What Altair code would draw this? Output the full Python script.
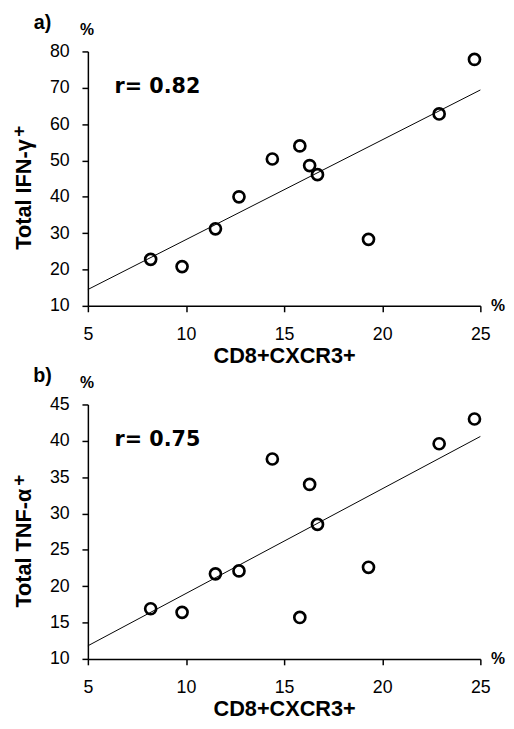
import altair as alt
import pandas as pd

# ---- data ----
cd8_cxcr3 = [8.2, 9.8, 11.5, 12.7, 14.4, 15.8, 16.3, 16.7, 19.3, 22.9, 24.7]
ifn_gamma = [22.8, 20.8, 31.2, 40.0, 50.4, 54.0, 48.6, 46.1, 28.3, 62.8, 77.8]
tnf_alpha = [16.9, 16.4, 21.7, 22.1, 37.5, 15.7, 34.0, 28.5, 22.6, 39.6, 43.0]

fit_x = [5, 25]
ifn_fit_y = [14.5, 69.4]
tnf_fit_y = [11.8, 40.6]

ifn_ticks = [10, 20, 30, 40, 50, 60, 70, 80]
tnf_ticks = [10, 15, 20, 25, 30, 35, 40, 45]
x_ticks = [5, 10, 15, 20, 25]

FONT = "Liberation Sans"
W, H = 398, 258


def panel(yvals, fit_y, ytitle, ydomain, yticks, rtext, letter, title_bottom, plus_y):
    pts = pd.DataFrame({"x": cd8_cxcr3, "y": yvals})
    fit = pd.DataFrame({"x": fit_x, "y": fit_y})

    xenc = alt.X("x:Q", scale=alt.Scale(domain=[5, 25], nice=False, zero=False),
                 axis=alt.Axis(values=x_ticks, title="CD8+CXCR3+", titlePadding=2,
                               titleFontSize=22, labelPadding=14))
    yenc = alt.Y("y:Q", scale=alt.Scale(domain=ydomain, nice=False, zero=False),
                 axis=alt.Axis(values=yticks, title=None, labelPadding=13))

    points = alt.Chart(pts).mark_point(
        shape="circle", filled=False, size=125, strokeWidth=2.7, color="black", opacity=1
    ).encode(x=xenc, y=yenc)

    line = alt.Chart(fit).mark_line(color="black", strokeWidth=1).encode(x=xenc, y=yenc)

    def label(txt, x, y, size, font=FONT, align="center", weight="bold", angle=0):
        return alt.Chart(pd.DataFrame({"t": [txt]})).mark_text(
            font=font, fontSize=size, fontWeight=weight, color="black",
            align=align, baseline="middle", angle=angle
        ).encode(x=alt.value(x), y=alt.value(y), text="t:N")

    r_lbl = label(rtext, 27, 36, 21, font="DejaVu Sans", align="left")
    letter_lbl = label(letter, -46, -29, 20)
    pct_top = label("%", -1, -22, 16)
    pct_right = label("%", 416, H, 16)
    ytitle_lbl = label(ytitle, -65, title_bottom, 22, align="left", angle=270)
    plus_lbl = label("+", -70, plus_y, 19, angle=270)

    return alt.layer(line, points, r_lbl, letter_lbl, pct_top, pct_right,
                     ytitle_lbl, plus_lbl).properties(width=W, height=H)


top = panel(ifn_gamma, ifn_fit_y, "Total IFN-γ", [10, 80], ifn_ticks,
            "r= 0.82", "a)", 201, 81)
bottom = panel(tnf_alpha, tnf_fit_y, "Total TNF-α", [10, 45], tnf_ticks,
               "r= 0.75", "b)", 206, 77)

chart = alt.vconcat(top, bottom, spacing=0).properties(
    padding={"left": 2, "top": 0, "right": 0, "bottom": 2},
    background="white",
).configure_view(stroke=None).configure_axis(
    grid=False,
    domainColor="black", domainWidth=1.5,
    tickColor="black", tickWidth=1.5, tickSize=6,
    labelFont=FONT, labelFontSize=18, labelColor="black",
    titleFont=FONT, titleFontWeight="bold", titleColor="black",
    labelFlush=False,
)

chart.save("out.html", embed_options={"renderer": "svg", "actions": False})
